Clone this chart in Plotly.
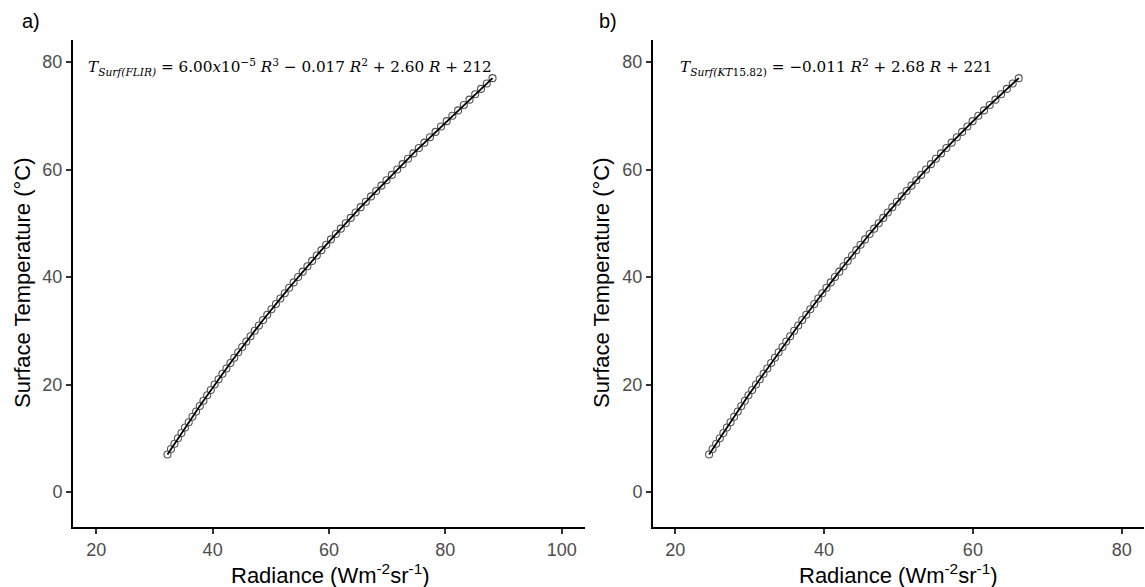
import plotly.graph_objects as go

# Panel a (FLIR): surface temperature (°C) vs radiance
temp_a = list(range(7, 78))
rad_a = [32.24, 32.84, 33.44, 34.04, 34.64, 35.25, 35.89, 36.52, 37.16, 37.79,
         38.42, 39.06, 39.69, 40.34, 41.02, 41.69, 42.37, 43.05, 43.72, 44.40,
         45.08, 45.80, 46.52, 47.23, 47.95, 48.67, 49.39, 50.11, 50.88, 51.64,
         52.40, 53.16, 53.93, 54.69, 55.48, 56.29, 57.09, 57.90, 58.70, 59.51,
         60.33, 61.18, 62.03, 62.88, 63.73, 64.57, 65.44, 66.33, 67.22, 68.11,
         69.00, 69.88, 70.80, 71.73, 72.65, 73.58, 74.50, 75.44, 76.40, 77.35,
         78.31, 79.26, 80.23, 81.21, 82.19, 83.17, 84.15, 85.13, 86.12, 87.12,
         88.11]

# Panel b (KT15.82)
temp_b = list(range(7, 78))
rad_b = [24.54, 25.01, 25.49, 25.98, 26.46, 26.94, 27.42, 27.90, 28.39, 28.87,
         29.35, 29.83, 30.33, 30.84, 31.35, 31.86, 32.37, 32.88, 33.38, 33.89,
         34.40, 34.91, 35.44, 35.98, 36.52, 37.06, 37.60, 38.14, 38.68, 39.22,
         39.76, 40.32, 40.89, 41.46, 42.04, 42.61, 43.18, 43.76, 44.33, 44.90,
         45.50, 46.12, 46.73, 47.34, 47.95, 48.56, 49.17, 49.79, 50.43, 51.08,
         51.74, 52.39, 53.05, 53.70, 54.36, 55.02, 55.72, 56.43, 57.14, 57.84,
         58.55, 59.26, 59.96, 60.73, 61.49, 62.26, 63.03, 63.79, 64.56, 65.35,
         66.16]

xticks_a = [20, 40, 60, 80, 100]
xticks_b = [20, 40, 60, 80]
yticks = [0, 20, 40, 60, 80]

eq_a = ("<i>T<sub>Surf(FLIR)</sub></i> = 6.00<i>x</i>10<sup>−5</sup> <i>R</i><sup>3</sup>"
        " − 0.017 <i>R</i><sup>2</sup> + 2.60 <i>R</i> + 212")
eq_b = ("<i>T<sub>Surf(KT</sub></i><sub>15.82)</sub> = −0.011 <i>R</i><sup>2</sup>"
        " + 2.68 <i>R</i> + 221")

W, H = 1145, 587
fig = go.Figure()

for xs, ys, xa, ya in [(rad_a, temp_a, "x", "y"), (rad_b, temp_b, "x2", "y2")]:
    fig.add_trace(go.Scatter(x=xs, y=ys, mode="markers", xaxis=xa, yaxis=ya,
                             marker=dict(symbol="circle", size=7, color="white",
                                         line=dict(color="#555555", width=1.1)),
                             showlegend=False, hoverinfo="skip"))
    fig.add_trace(go.Scatter(x=xs, y=ys, mode="lines", xaxis=xa, yaxis=ya,
                             line=dict(color="black", width=1.8),
                             showlegend=False, hoverinfo="skip"))

def px(v, total):
    return v / total

ax_common = dict(showgrid=False, zeroline=False, showline=True, linecolor="black",
                 linewidth=2, ticks="outside", ticklen=5, tickwidth=1.5,
                 tickcolor="#333333",
                 tickfont=dict(family="Liberation Sans", size=18, color="#4d4d4d"),
                 automargin=False, fixedrange=True)

ydom = [px(H - 527, H), px(H - 40, H)]
yrange = [-6.5, 84.1]
fig.update_layout(
    width=W, height=H,
    margin=dict(l=0, r=0, t=0, b=0),
    plot_bgcolor="white", paper_bgcolor="white",
    xaxis=dict(domain=[px(73, W), px(585, W)], range=[16, 104],
               tickvals=xticks_a, anchor="y", **ax_common),
    yaxis=dict(domain=ydom, range=yrange, tickvals=yticks, anchor="x", **ax_common),
    xaxis2=dict(domain=[px(653, W), px(1144, W)], range=[17, 83],
                tickvals=xticks_b, anchor="y2", **ax_common),
    yaxis2=dict(domain=ydom, range=yrange, tickvals=yticks, anchor="x2", **ax_common),
)

title_font = dict(family="Liberation Sans", size=22, color="black")
ann = []
# panel letters
ann.append(dict(text="a)", x=px(20, W), y=1 - px(21, H), xref="paper", yref="paper",
                xanchor="left", yanchor="middle", showarrow=False,
                font=dict(family="Liberation Sans", size=20, color="black")))
ann.append(dict(text="b)", x=px(597, W), y=1 - px(21, H), xref="paper", yref="paper",
                xanchor="left", yanchor="middle", showarrow=False,
                font=dict(family="Liberation Sans", size=20, color="black")))
# x titles
xt = "Radiance (Wm<sup>-2</sup>sr<sup>-1</sup>)"
ann.append(dict(text=xt, x=px(330, W), y=1 - px(574, H), xref="paper", yref="paper",
                xanchor="center", yanchor="middle", showarrow=False, font=title_font))
ann.append(dict(text=xt, x=px(898, W), y=1 - px(574, H), xref="paper", yref="paper",
                xanchor="center", yanchor="middle", showarrow=False, font=title_font))
# y titles
yt = "Surface Temperature (°C)"
ann.append(dict(text=yt, x=px(22, W), y=1 - px(283, H), xref="paper", yref="paper",
                xanchor="center", yanchor="middle", textangle=-90, showarrow=False,
                font=title_font))
ann.append(dict(text=yt, x=px(601, W), y=1 - px(283, H), xref="paper", yref="paper",
                xanchor="center", yanchor="middle", textangle=-90, showarrow=False,
                font=title_font))
# equations
eq_font = dict(family="DejaVu Serif", size=15.2, color="black")
ann.append(dict(text=eq_a, x=18.2, y=79.0, xref="x", yref="y", xanchor="left",
                yanchor="middle", showarrow=False, font=eq_font))
ann.append(dict(text=eq_b, x=20.3, y=79.0, xref="x2", yref="y2", xanchor="left",
                yanchor="middle", showarrow=False, font=eq_font))
fig.update_layout(annotations=ann)

fig.write_html("out.html")
